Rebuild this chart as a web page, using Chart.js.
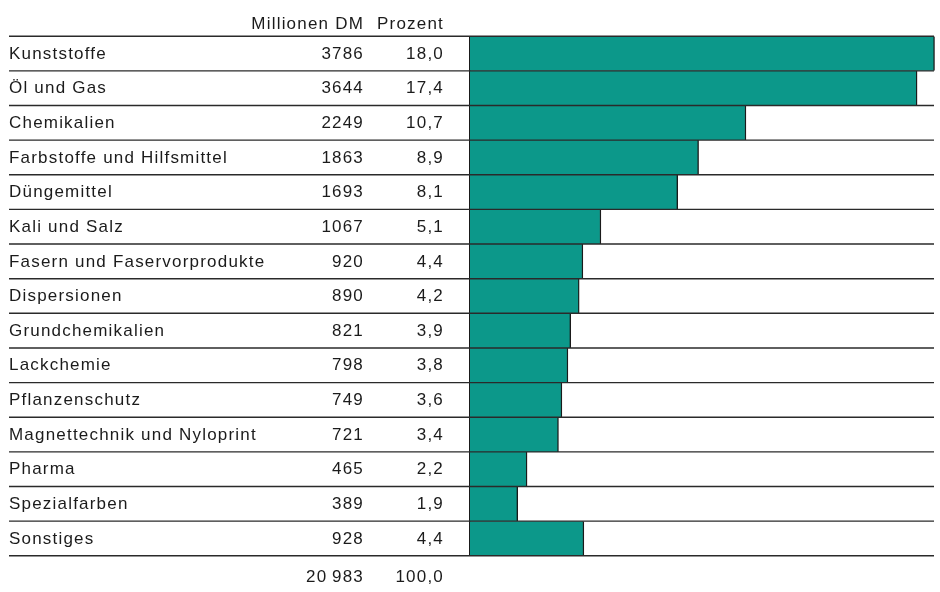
<!DOCTYPE html>
<html>
<head>
<meta charset="utf-8">
<script src="https://cdn.jsdelivr.net/npm/chart.js@4/dist/chart.umd.min.js"></script>
<style>
  html, body { margin: 0; padding: 0; background: #ffffff; }
  #c { display: block; }
</style>
</head>
<body>
<canvas id="c" width="940" height="592"></canvas>
<script>
// Umsatz nach Arbeitsgebieten
const categories = [
  'Kunststoffe', 'Öl und Gas', 'Chemikalien', 'Farbstoffe und Hilfsmittel',
  'Düngemittel', 'Kali und Salz', 'Fasern und Faservorprodukte', 'Dispersionen',
  'Grundchemikalien', 'Lackchemie', 'Pflanzenschutz',
  'Magnettechnik und Nyloprint', 'Pharma', 'Spezialfarben', 'Sonstiges'
];
const millionenDM = [3786, 3644, 2249, 1863, 1693, 1067, 920, 890, 821, 798, 749, 721, 465, 389, 928];
const prozent = [18.0, 17.4, 10.7, 8.9, 8.1, 5.1, 4.4, 4.2, 3.9, 3.8, 3.6, 3.4, 2.2, 1.9, 4.4];
const columnHeaders = ['Millionen DM', 'Prozent'];
const totals = ['20\u2009983', '100,0'];

const fmtPct = v => v.toFixed(1).replace('.', ',');

const INK = '#1b1b1b';
const TEAL = '#0c988a';
const FONT = { family: '"Liberation Sans", Arial, Helvetica, sans-serif', size: 17 };
const TRACK = '1.2px';

// Slightly tracked lettering for all canvas text
const tracking = {
  id: 'tracking',
  beforeUpdate(chart) { chart.ctx.letterSpacing = TRACK; },
  beforeDraw(chart) { chart.ctx.letterSpacing = TRACK; }
};

// Horizontal rules between the rows, across the whole table width
const rowRules = {
  id: 'rowRules',
  afterDatasetsDraw(chart) {
    const y = chart.scales.y;
    const n = categories.length;
    const step = y.getPixelForValue(1) - y.getPixelForValue(0);
    const ctx = chart.ctx;
    ctx.save();
    ctx.strokeStyle = '#2a2a2a';
    ctx.lineWidth = 1.4;
    for (let i = 0; i <= n; i++) {
      const py = y.getPixelForValue(i) - step / 2;
      ctx.beginPath();
      ctx.moveTo(9, py);
      ctx.lineTo(chart.chartArea.right - 1, py);
      ctx.stroke();
    }
    ctx.restore();
  }
};

// Column headings above and totals below the number columns
const columnTexts = {
  id: 'columnTexts',
  afterDraw(chart) {
    const ctx = chart.ctx;
    const cols = [chart.scales.yMio, chart.scales.yPct];
    ctx.save();
    ctx.letterSpacing = TRACK;
    ctx.font = Chart.helpers.toFont(FONT).string;
    ctx.fillStyle = INK;
    ctx.textAlign = 'right';
    ctx.textBaseline = 'alphabetic';
    cols.forEach((s, i) => {
      const x = s.right - s.options.ticks.padding;
      ctx.fillText(columnHeaders[i], x, chart.chartArea.top - 7);
      ctx.fillText(totals[i], x, chart.chartArea.bottom + 26);
    });
    ctx.restore();
  }
};

const hidden = { display: false, drawTicks: false };

new Chart(document.getElementById('c'), {
  type: 'bar',
  data: {
    labels: categories,
    datasets: [{
      data: millionenDM,
      backgroundColor: TEAL,
      borderColor: '#1a1a1a',
      borderWidth: { left: 0, right: 1.4, top: 0, bottom: 0 },
      borderSkipped: false,
      barPercentage: 1,
      categoryPercentage: 1,
      xAxisID: 'x',
      yAxisID: 'y'
    }]
  },
  options: {
    indexAxis: 'y',
    responsive: false,
    animation: false,
    devicePixelRatio: 1,
    layout: { padding: { left: 9, right: 5, top: 33.5, bottom: 29 } },
    plugins: { legend: { display: false }, tooltip: { enabled: false } },
    scales: {
      x: { type: 'linear', min: 0, max: 3790, display: false },
      y: {
        type: 'category', labels: categories, position: 'left', weight: 3, offset: true,
        grid: hidden, border: { display: false },
        ticks: { crossAlign: 'far', color: INK, font: FONT, padding: 0, autoSkip: false, labelOffset: 0.5 },
        afterFit(s) { s.width = 272; }
      },
      yMio: {
        type: 'category', labels: millionenDM.map(String), position: 'left', weight: 2, offset: true,
        grid: hidden, border: { display: false },
        ticks: { color: INK, font: FONT, padding: 26, autoSkip: false, labelOffset: 0.5 },
        afterFit(s) { s.width = 109; }
      },
      yPct: {
        type: 'category', labels: prozent.map(fmtPct), position: 'left', weight: 1, offset: true, z: 1,
        grid: hidden, border: { display: true, color: '#1a1a1a', width: 1.4 },
        ticks: { color: INK, font: FONT, padding: 26, autoSkip: false, labelOffset: 0.5 },
        afterFit(s) { s.width = 80; }
      }
    }
  },
  plugins: [tracking, rowRules, columnTexts]
});
</script>
</body>
</html>
